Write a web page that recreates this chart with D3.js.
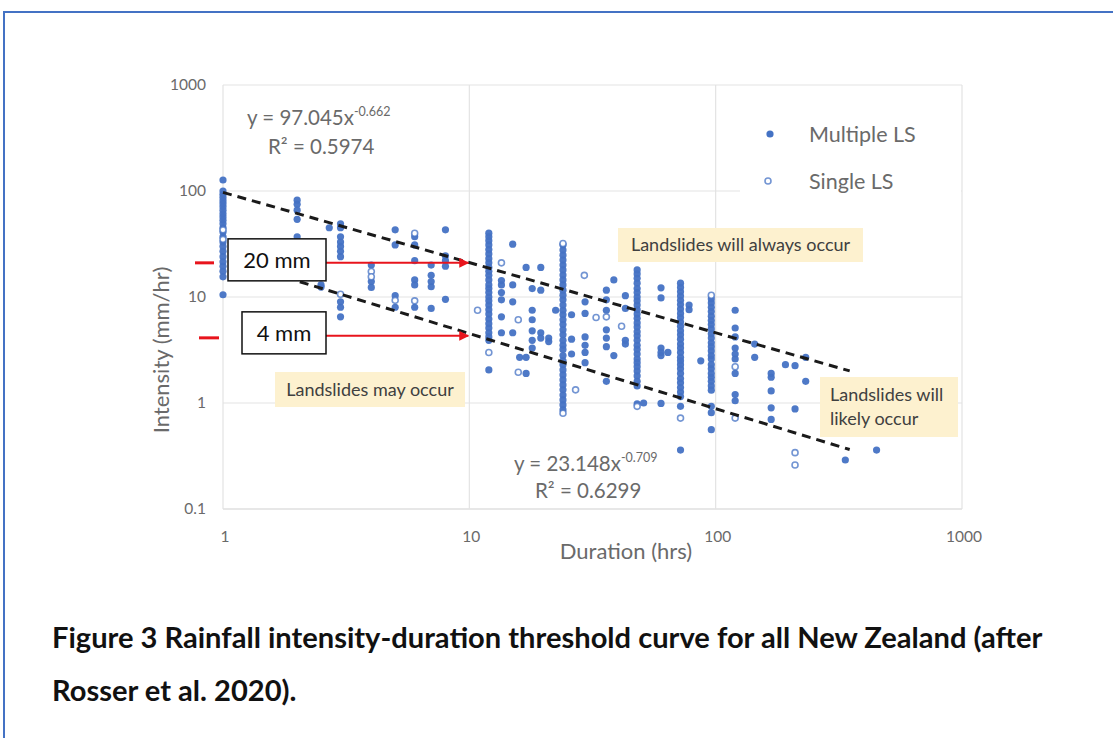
<!DOCTYPE html>
<html>
<head>
<meta charset="utf-8">
<script src="https://cdn.jsdelivr.net/npm/d3@7"></script>
<style>
    body { margin: 0; background: #fff; }
    svg { display: block; font-family: Lato, 'Open Sans', sans-serif; }
</style>
</head>
<body>
<div id="chart"></div>
<script>
'use strict';

// [duration (hrs), [intensities (mm/hr)]]
var multipleLS = [
    [1, [127, 100, 93, 87, 81, 76, 71, 66, 61, 57, 53, 49, 45, 41, 37, 33, 30, 27, 24, 21.5, 19.5, 17.5, 15.5, 10.5]],
    [2, [82, 75, 66, 54, 37]],
    [2.5, [13, 12.4]],
    [2.7, [45]],
    [3, [49, 45, 37, 33, 30, 27, 24, 9, 8, 6.5]],
    [4, [20, 14, 12.3]],
    [5, [43, 31, 10.3, 8]],
    [6, [37, 31, 22, 14.5, 13, 8]],
    [7, [20, 16, 14, 12.5, 7.8]],
    [8, [43, 24.5, 22, 19.5, 9.5]],
    [12, [40, 37, 34, 31, 28, 25.5, 23, 21, 19, 17.5, 16, 14.5, 13, 12, 11, 10, 9.2, 8.4, 7.6, 6.9, 6.2, 5.6, 5.1, 4.6, 4.2, 3.9, 2.05]],
    [13.5, [14.3, 13, 11, 9.4, 6.5, 4.6]],
    [15, [31.5, 13, 9, 4.6]],
    [16, [2.7]],
    [17, [19, 2.7, 1.9]],
    [18, [12, 7.5, 6.1, 4.8, 3.9, 3.3]],
    [19.5, [19, 11.6, 4.6, 4.1]],
    [21, [4.1, 3.8]],
    [22.4, [7.5]],
    [24, [31, 27.7, 24.8, 22.3, 20, 18, 16.1, 14.5, 13, 11.6, 10.4, 9.4, 8.4, 7.5, 6.8, 6.1, 5.5, 4.9, 4.4, 3.9, 3.5, 3.2, 2.8, 2.5, 2.3, 2.05, 1.84, 1.65, 1.48, 1.33, 1.19, 1.07, 0.96, 0.86]],
    [26, [6.8, 4, 2.9]],
    [29.5, [9, 7, 4.2, 3.5, 3, 2.4]],
    [36, [11.6, 9.4, 7.5, 4.9, 4.1, 3.4, 1.6]],
    [38.6, [14.5, 2.8]],
    [43, [10.3, 7.8, 3.9, 3.6]],
    [48, [18, 16.5, 15, 13.5, 12, 11, 10, 9.2, 8.4, 7.6, 6.9, 6.3, 5.7, 5.2, 4.7, 4.3, 3.9, 3.5, 3.2, 2.9, 2.6, 2.4, 2.2, 2, 1.8, 1.6, 1.45, 0.98]],
    [51, [1]],
    [60, [12.2, 9.8, 3.3, 3, 2.8, 0.99]],
    [64, [3]],
    [72, [13.5, 12.3, 11.2, 10.2, 9.3, 8.5, 7.7, 7, 6.4, 5.8, 5.3, 4.8, 4.4, 4, 3.6, 3.3, 3, 2.7, 2.5, 2.3, 2.1, 1.9, 1.7, 1.55, 1.4, 1.27, 1.15, 0.93, 0.36]],
    [78, [8.4, 7.6]],
    [87, [2.5]],
    [96, [9.6, 8.8, 8, 7.3, 6.6, 6, 5.5, 5, 4.5, 4.1, 3.7, 3.4, 3.1, 2.8, 2.6, 2.3, 2.1, 1.9, 1.75, 1.6, 1.45, 1.32, 0.93, 0.81, 0.56]],
    [120, [7.5, 5.1, 4.2, 3.3, 2.9, 2.6, 1.9, 1.2, 1.05]],
    [144, [3.6, 2.7]],
    [168, [1.9, 1.75, 1.3, 0.9, 0.7]],
    [192, [2.3]],
    [210, [2.25, 0.88]],
    [232, [2.7, 1.6]],
    [336, [0.29]],
    [450, [0.36]]
];

var singleLS = [
    [1, [43, 35]],
    [3, [10.6]],
    [4, [17.4, 15.5]],
    [5, [9.3]],
    [6, [40, 9.2]],
    [10.8, [7.5]],
    [12, [3]],
    [13.5, [21]],
    [15.8, [6.1, 1.95]],
    [24, [32, 0.8]],
    [27, [1.33]],
    [29.3, [16]],
    [32.7, [6.4]],
    [36, [6.5]],
    [41.5, [5.3]],
    [48, [0.93]],
    [72, [0.72]],
    [96, [10.4]],
    [120, [2.2, 0.72]],
    [210, [0.34, 0.26]]
];

var xTicks = [1, 10, 100, 1000];
var yTicks = [0.1, 1, 10, 100, 1000];

// power fits: [coefficient, exponent, first x, last x]
var upperFit = [97.045, -0.662, 1, 350];
var lowerFit = [23.148, -0.709, 2.05, 350];

var thresholdLabels = ['20 mm', '4 mm'];
var thresholdLevels = [21, 4.3];

var captionLines = [
    'Figure 3 Rainfall intensity-duration threshold curve for all New Zealand (after',
    'Rosser et al. 2020).'
];

function flatten(cols) {
    var out = [];
    cols.forEach(function(c) {
        c[1].forEach(function(v) { out.push({ d: c[0], v: v }); });
    });
    return out;
}

function drawChart() {
    var blue = '#4472c4';
    var grey = '#6a6a6a';

    var svg = d3.select('#chart')
        .append('svg')
        .attr('width', 1113)
        .attr('height', 738);

    svg.append('rect').attr('width', 1113).attr('height', 738).attr('fill', '#fff');

    // page frame
    svg.append('path')
        .attr('d', 'M4,738 V12 H1113')
        .attr('fill', 'none')
        .attr('stroke', blue)
        .attr('stroke-width', 2);

    var x = d3.scaleLog().domain([1, 1000]).range([223, 962]);
    var y = d3.scaleLog().domain([0.1, 1000]).range([509, 85]);

    // grid
    svg.append('g').selectAll('line')
        .data(yTicks)
        .enter()
        .append('line')
        .attr('x1', x(1)).attr('x2', x(1000))
        .attr('y1', function(d) { return y(d); })
        .attr('y2', function(d) { return y(d); })
        .attr('stroke', function(d) { return d === 0.1 ? '#cfcfcf' : '#e3e3e3'; })
        .attr('stroke-width', 1.2);

    svg.append('g').selectAll('line')
        .data(xTicks)
        .enter()
        .append('line')
        .attr('y1', y(0.1)).attr('y2', y(1000))
        .attr('x1', function(d) { return x(d); })
        .attr('x2', function(d) { return x(d); })
        .attr('stroke', '#e3e3e3')
        .attr('stroke-width', 1.2);

    // legend area hides grid
    svg.append('rect')
        .attr('x', 740).attr('y', y(1000) + 1)
        .attr('width', x(1000) - 741).attr('height', 128)
        .attr('fill', '#fff');

    svg.append('g').selectAll('text')
        .data(yTicks)
        .enter()
        .append('text')
        .attr('x', 206)
        .attr('y', function(d) { return y(d); })
        .attr('dy', '0.35em')
        .attr('text-anchor', 'end')
        .attr('font-size', 15.5)
        .attr('fill', grey)
        .text(function(d) { return d; });

    svg.append('g').selectAll('text')
        .data(xTicks)
        .enter()
        .append('text')
        .attr('x', function(d) { return x(d) + 2; })
        .attr('y', 537)
        .attr('dy', '0.35em')
        .attr('text-anchor', 'middle')
        .attr('font-size', 15.5)
        .attr('fill', grey)
        .text(function(d) { return d; });

    svg.append('text')
        .attr('x', 626).attr('y', 551)
        .attr('dy', '0.35em')
        .attr('text-anchor', 'middle')
        .attr('font-size', 22)
        .attr('fill', grey)
        .text('Duration (hrs)');

    svg.append('text')
        .attr('transform', 'translate(161,350) rotate(-90)')
        .attr('dy', '0.35em')
        .attr('text-anchor', 'middle')
        .attr('font-size', 22)
        .attr('fill', grey)
        .text('Intensity (mm/hr)');

    // annotation boxes
    var notes = [
        { x: 618, y: 228, w: 245, h: 34, lines: ['Landslides will always occur'], anchor: 'middle' },
        { x: 275, y: 372, w: 190, h: 35, lines: ['Landslides may occur'], anchor: 'middle' },
        { x: 820, y: 377, w: 138, h: 60, lines: ['Landslides will', 'likely occur'], anchor: 'start' }
    ];
    notes.forEach(function(n) {
        svg.append('rect')
            .attr('x', n.x).attr('y', n.y)
            .attr('width', n.w).attr('height', n.h)
            .attr('fill', '#fdf1cf');
        n.lines.forEach(function(t, i) {
            svg.append('text')
                .attr('x', n.anchor === 'middle' ? n.x + n.w / 2 : n.x + 10)
                .attr('y', n.y + n.h / 2 + (i - (n.lines.length - 1) / 2) * 24)
                .attr('dy', '0.35em')
                .attr('text-anchor', n.anchor)
                .attr('font-size', 18)
                .attr('fill', '#404040')
                .text(t);
        });
    });

    // points
    svg.append('g').selectAll('circle')
        .data(flatten(multipleLS))
        .enter()
        .append('circle')
        .attr('cx', function(d) { return x(d.d); })
        .attr('cy', function(d) { return y(d.v); })
        .attr('r', 3.6)
        .attr('fill', blue)
        .attr('fill-opacity', 0.95);

    svg.append('g').selectAll('circle')
        .data(flatten(singleLS))
        .enter()
        .append('circle')
        .attr('cx', function(d) { return x(d.d); })
        .attr('cy', function(d) { return y(d.v); })
        .attr('r', 3)
        .attr('fill', '#fff')
        .attr('stroke', blue)
        .attr('stroke-opacity', 0.75)
        .attr('stroke-width', 1.6);

    // power-law trendlines (straight on log-log)
    [upperFit, lowerFit].forEach(function(f) {
        var ends = [f[2], f[3]].map(function(d) { return [x(d), y(f[0] * Math.pow(d, f[1]))]; });
        svg.append('path')
            .attr('d', d3.line()(ends))
            .attr('stroke', '#1a1a1a')
            .attr('stroke-width', 3)
            .attr('stroke-dasharray', '9,6')
            .attr('fill', 'none');
    });

    // equations
    var eqs = [
        { x: 247, y: 118, a: 'y = 97.045x', e: '-0.662', r: 'R² = 0.5974', rx: 268, ry: 147 },
        { x: 514, y: 464, a: 'y = 23.148x', e: '-0.709', r: 'R² = 0.6299', rx: 535, ry: 491 }
    ];
    eqs.forEach(function(q) {
        var t = svg.append('text')
            .attr('x', q.x).attr('y', q.y)
            .attr('dy', '0.35em')
            .attr('font-size', 20.5)
            .attr('fill', grey);
        t.append('tspan').text(q.a);
        t.append('tspan').attr('dy', -9).attr('font-size', 12.5).text(q.e);
        svg.append('text')
            .attr('x', q.rx).attr('y', q.ry)
            .attr('dy', '0.35em')
            .attr('font-size', 20.5)
            .attr('fill', grey)
            .text(q.r);
    });

    // legend
    svg.append('circle').attr('cx', 770).attr('cy', 134).attr('r', 3.6).attr('fill', blue);
    svg.append('circle').attr('cx', 768).attr('cy', 181).attr('r', 3)
        .attr('fill', '#fff').attr('stroke', blue).attr('stroke-opacity', 0.75).attr('stroke-width', 1.6);
    [['Multiple LS', 134], ['Single LS', 181]].forEach(function(l) {
        svg.append('text')
            .attr('x', 809).attr('y', l[1])
            .attr('dy', '0.35em')
            .attr('font-size', 21.5)
            .attr('fill', grey)
            .text(l[0]);
    });

    // threshold arrows
    svg.append('defs').append('marker')
        .attr('id', 'arr')
        .attr('viewBox', '0 0 10 10')
        .attr('refX', 9).attr('refY', 5)
        .attr('markerWidth', 5).attr('markerHeight', 5)
        .attr('orient', 'auto')
        .append('path')
        .attr('d', 'M0,0 L10,5 L0,10 z')
        .attr('fill', '#e8141c');

    var boxes = [{ x: 228, w: 98 }, { x: 242, w: 84 }];
    thresholdLevels.forEach(function(v, i) {
        var yy = y(v);
        svg.append('line')
            .attr('x1', 195 + i * 4).attr('x2', 214 + i * 5)
            .attr('y1', yy + i * 2).attr('y2', yy + i * 2)
            .attr('stroke', '#e8141c').attr('stroke-width', 3);
        svg.append('line')
            .attr('x1', boxes[i].x + boxes[i].w).attr('x2', x(9.9))
            .attr('y1', yy).attr('y2', yy)
            .attr('stroke', '#e8141c').attr('stroke-width', 2)
            .attr('marker-end', 'url(#arr)');
        svg.append('rect')
            .attr('x', boxes[i].x).attr('y', yy - 24)
            .attr('width', boxes[i].w).attr('height', 42)
            .attr('fill', '#fff')
            .attr('stroke', '#111').attr('stroke-width', 1.5);
        svg.append('text')
            .attr('x', boxes[i].x + boxes[i].w / 2).attr('y', yy - 3)
            .attr('dy', '0.35em')
            .attr('text-anchor', 'middle')
            .attr('font-size', 22)
            .attr('fill', '#111')
            .text(thresholdLabels[i]);
    });

    // caption
    var cap = svg.append('g').selectAll('text')
        .data(captionLines)
        .enter()
        .append('text')
        .attr('x', 52)
        .attr('y', function(d, i) { return 648 + i * 53; })
        .attr('font-size', 22)
        .attr('font-weight', 'bold')
        .attr('fill', '#111')
        .text(function(d) { return d; });
    var w = cap.node().getComputedTextLength();
    cap.attr('font-size', 22 * 991 / w);
}

drawChart();
</script>
</body>
</html>
